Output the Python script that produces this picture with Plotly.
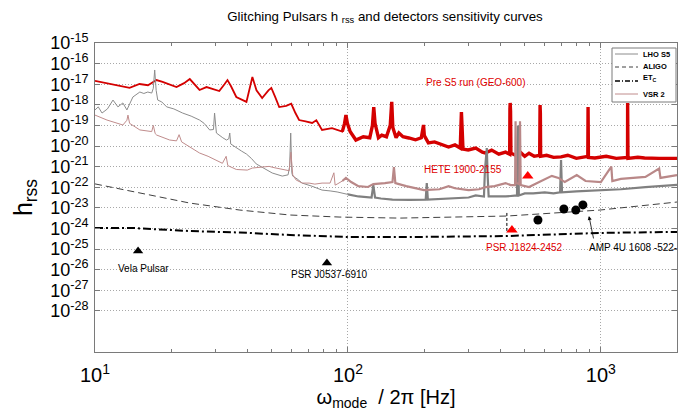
import numpy as np
import plotly.graph_objects as go

# ---------------- data (frequency in Hz, log10 of h_rss) ----------------
geo_f = [10, 11.5, 13.7, 15.0, 16.2, 17.5, 18.5, 21.0, 22.5, 23.7, 25.0, 25.9, 27.6, 31.0, 32.5, 33.4, 34.5,
         36.2, 39.7, 40.8, 41.9, 43.5, 45.8, 48.5, 49.8, 51.5, 53.5, 57, 59.7, 62, 64.1, 68, 72.2, 75, 79.0,
         86.5, 90.6, 95, 97, 98.2, 99.5, 102, 107.5, 115, 122, 125, 126.5, 128, 132, 136, 142, 147, 149,
         150.5, 155, 159, 165, 174, 185, 195, 198, 199, 200.5, 208, 220, 235, 250, 265, 278, 280, 281,
         282.5, 285, 299, 320, 340, 349, 370, 395, 420, 436, 437, 438, 439.5, 441, 459, 480, 500, 520,
         545, 573, 574, 575, 576.5, 578, 610, 650, 696, 740, 800, 888, 889, 890, 891.5, 893, 947, 1050,
         1150, 1275, 1276, 1277.5, 1280, 1400, 1489, 1700, 2000]
geo_e = [-16.84, -16.99, -17.18, -16.99, -17.05, -16.80, -16.89, -17.14, -16.95, -16.75, -17.05, -17.28,
         -17.14, -17.33, -17.0, -16.80, -17.1, -17.62, -17.86, -17.2, -16.65, -17.3, -17.67, -17.3, -17.18,
         -17.6, -18.11, -18.05, -17.95, -18.4, -18.74, -18.8, -18.88, -18.75, -19.22, -19.13, -19.22, -19.3,
         -18.9, -18.50, -18.9, -19.3, -19.71, -19.55, -19.6, -19.0, -18.11, -18.9, -19.6, -19.47, -19.55,
         -19.0, -17.86, -19.1, -19.6, -19.37, -19.55, -19.61, -19.7, -19.6, -19.2, -18.98, -19.5, -19.85,
         -19.8, -19.95, -20.05, -19.95, -20.1, -18.9, -18.35, -19.0, -20.15, -20.19, -20.1, -20.3, -20.34,
         -20.2, -20.4, -20.3, -20.4, -18.2, -17.91, -18.3, -20.35, -20.44, -20.3, -20.5, -20.35, -20.5,
         -20.45, -18.4, -18.01, -18.4, -20.5, -20.45, -20.55, -20.53, -20.45, -20.6, -20.5, -18.3, -18.11,
         -18.4, -20.55, -20.58, -20.5, -20.6, -20.55, -17.91, -18.4, -20.6, -20.55, -20.58, -20.6, -20.6]

lho_f = [10, 10.3, 10.66, 11.2, 11.78, 12.32, 12.89, 13.37, 14.12, 15.04, 15.6, 16.17, 16.76, 17.0, 17.22,
         17.45, 17.70, 18.36, 19.2, 20.5, 22.2, 24, 25.9, 27, 28.4, 29.4, 29.7, 30.0, 30.2, 32, 33.1, 33.8,
         34.1, 34.4, 36.2, 38, 39.7, 41.5, 43.4, 46, 50.2, 55, 58, 58.8, 59.4, 60, 60.5, 63, 65.9, 72, 79.0,
         85, 90.6, 100, 110, 124, 126, 128, 135, 150, 175, 203, 205, 207, 240, 280, 300, 320, 345, 348, 354,
         357, 360, 380, 420, 466, 470, 474, 500, 540, 600, 650, 690, 696, 702, 800, 1000, 1200, 1500, 2000]
lho_e = [-18.25, -18.1, -18.40, -18.2, -17.77, -18.10, -17.91, -18.25, -17.62, -17.38, -17.45, -17.38,
         -17.43, -17.2, -16.31, -17.3, -17.77, -17.86, -18.10, -18.2, -18.40, -18.55, -18.74, -18.9, -19.22,
         -19.2, -18.40, -19.25, -19.37, -19.6, -19.71, -19.65, -19.37, -19.9, -20.10, -20.25, -20.39, -20.6,
         -20.87, -21.05, -21.31, -21.46, -21.4, -21.0, -19.37, -21.3, -21.46, -21.6, -21.80, -21.95, -22.14,
         -22.18, -22.23, -22.35, -22.45, -22.5, -21.9, -22.5, -22.55, -22.6, -22.62, -22.6, -21.8, -22.6,
         -22.55, -22.52, -22.5, -22.4, -22.45, -21.2, -20.1, -21.5, -22.45, -22.45, -22.45, -22.4, -19.0,
         -22.4, -22.3, -22.3, -22.25, -22.3, -22.25, -20.68, -22.25, -22.2, -22.14, -22.1, -22.0, -21.89]

vsr_f = [10, 11.15, 12.89, 13.37, 13.5, 13.7, 15.04, 16.76, 17.0, 17.3, 17.54, 19.74, 21, 21.5, 22, 25.9,
         28, 31.9, 33, 33.5, 36.2, 40, 41.9, 46, 48.8, 51, 55.0, 58.6, 59.5, 60.5, 62.4, 66, 70.2, 74, 79.0,
         85, 88, 89, 90.6, 95, 98.2, 103, 110, 120, 126, 140, 150, 152, 154, 170, 200, 230, 250, 265, 300,
         330, 350, 380, 420, 440, 458, 460, 463, 476, 479, 482, 520, 560, 600, 640, 680, 720, 803, 870,
         1000, 1100, 1110, 1200, 1500, 1700, 1720, 2000]
vsr_e = [-18.50, -18.74, -18.98, -18.75, -18.5, -18.9, -19.22, -19.3, -19.0, -19.4, -19.47, -19.71, -19.75,
         -19.45, -19.8, -20.34, -20.5, -20.84, -20.5, -20.95, -21.14, -21.17, -21.07, -21.0, -20.99, -21.05,
         -21.14, -21.2, -20.3, -21.4, -21.65, -21.8, -21.80, -21.85, -21.80, -21.8, -21.3, -21.9, -21.85,
         -21.7, -21.55, -21.75, -21.95, -21.99, -21.85, -21.8, -21.75, -21.02, -21.8, -21.95, -22.14, -22.1,
         -21.95, -22.05, -22.14, -22.1, -22.0, -21.95, -21.8, -21.9, -21.9, -18.8, -21.8, -21.85, -18.8,
         -21.9, -21.99, -21.8, -21.6, -21.45, -21.55, -21.75, -21.41, -21.7, -21.75, -21.0, -21.7, -21.6,
         -21.5, -21.1, -21.55, -21.41]

aligo_f = [10, 23.7, 37.4, 59, 93, 160, 425, 990, 2000]
aligo_e = [-21.84, -22.77, -23.11, -23.35, -23.45, -23.5, -23.4, -23.11, -22.72]

et_f = [10, 14.1, 23.7, 37.4, 59, 102, 171, 425, 990, 2000]
et_e = [-23.98, -23.98, -24.13, -24.2, -24.32, -24.42, -24.42, -24.37, -24.22, -24.17]

black_tri_f = [14.8, 82.6]
black_tri_e = [-25.10, -25.68]
red_tri_f = [445, 514]
red_tri_e = [-24.08, -21.46]
amp_f = [564, 714, 796, 849]
amp_e = [-23.59, -23.06, -23.11, -22.86]
err_f = [425, 425]
err_e = [-23.25, -24.17]

labels = ["Pre S5 run (GEO-600)", "HETE 1900-2155", "PSR J1824-2452", "Vela Pulsar",
          "PSR J0537-6910", "AMP 4U 1608 -522-"]
label_f = [318, 285, 501, 15.6, 84.2, 1340]
label_e = [-16.94, -21.12, -24.95, -25.97, -26.26, -24.95]
label_col = ["#e00000", "#e00000", "#e00000", "black", "black", "black"]
arrow_head = (897, -23.40)
arrow_tail = (938, -24.56)

legend_names = ["LHO S5", "ALIGO", "ET<sub>C</sub>", "VSR 2"]

y_tick_exp = list(range(-15, -29, -1))
x_tick_vals = [10, 100, 1000]
x_tick_text = ["10<sup>1</sup>", "10<sup>2</sup>", "10<sup>3</sup>"]

FONT = "Liberation Sans, Arial, Helvetica, sans-serif"
SPLIT = 100.0

GEO_C = "#d40000"
LHO_C = "#8c8c8c"
ALIGO_C = "#404040"
ET_C = "black"
VSR_C = "#c08c8c"
ALIGO_DASH = "7px,4px"
ET_DASH = "8px,3px,2px,3px"


def hv(e):
    return [10.0 ** v for v in e]


def part(f, e, low):
    f = np.asarray(f, float)
    e = np.asarray(e, float)
    m = f <= SPLIT if low else f >= SPLIT * 0.95
    return f[m], 10.0 ** e[m]


fig = go.Figure()

gx, gy = part(geo_f, geo_e, True)
fig.add_trace(go.Scatter(x=gx, y=gy, mode="lines", line=dict(color=GEO_C, width=1.8),
                         name="GEO-600", hoverinfo="skip"))
gx, gy = part(geo_f, geo_e, False)
fig.add_trace(go.Scatter(x=gx, y=gy, mode="lines", line=dict(color=GEO_C, width=3.4),
                         name="GEO-600", hoverinfo="skip"))

lx, ly = part(lho_f, lho_e, True)
fig.add_trace(go.Scatter(x=lx, y=ly, mode="lines", name="LHO S5", line=dict(color=LHO_C, width=1)))
lx, ly = part(lho_f, lho_e, False)
fig.add_trace(go.Scatter(x=lx, y=ly, mode="lines", name="LHO S5", line=dict(color="#808080", width=2.2)))

fig.add_trace(go.Scatter(x=aligo_f, y=hv(aligo_e), mode="lines", name="ALIGO",
                         line=dict(color=ALIGO_C, width=1, dash=ALIGO_DASH)))
fig.add_trace(go.Scatter(x=et_f, y=hv(et_e), mode="lines", name="ET_C",
                         line=dict(color=ET_C, width=2, dash=ET_DASH)))

vx, vy = part(vsr_f, vsr_e, True)
fig.add_trace(go.Scatter(x=vx, y=vy, mode="lines", name="VSR 2", line=dict(color=VSR_C, width=1)))
vx, vy = part(vsr_f, vsr_e, False)
fig.add_trace(go.Scatter(x=vx, y=vy, mode="lines", name="VSR 2", line=dict(color="#b98888", width=2.2)))

fig.add_trace(go.Scatter(x=err_f, y=hv(err_e), mode="lines",
                         line=dict(color="black", width=1, dash="3px,2px")))
fig.add_trace(go.Scatter(x=black_tri_f, y=hv(black_tri_e), mode="markers",
                         marker=dict(symbol="triangle-up", size=9, color="black")))
fig.add_trace(go.Scatter(x=red_tri_f, y=hv(red_tri_e), mode="markers",
                         marker=dict(symbol="triangle-up", size=10, color="#ff0000")))
fig.add_trace(go.Scatter(x=amp_f, y=hv(amp_e), mode="markers",
                         marker=dict(symbol="circle", size=9, color="black")))

for t, f, e, c in zip(labels, label_f, label_e, label_col):
    fig.add_annotation(x=np.log10(f), y=e, text=t, showarrow=False,
                       font=dict(family=FONT, size=10, color=c), xanchor="center", yanchor="middle")

fig.add_annotation(x=np.log10(arrow_head[0]), y=arrow_head[1], ax=np.log10(arrow_tail[0]),
                   ay=arrow_tail[1], axref="x", ayref="y", text="", showarrow=True,
                   arrowhead=2, arrowsize=1, arrowwidth=0.8, arrowcolor="black")

# ---- compact legend box (MATLAB style), drawn in plot-area paper coordinates ----
PW, PH = 582.0, 309.0   # plot area size in px


def px_x(dx):
    return 1 - dx / PW


def px_y(dy):
    return 1 - dy / PH


fig.add_shape(type="rect", xref="paper", yref="paper", x0=px_x(65), x1=px_x(1), y0=px_y(59), y1=px_y(5),
              line=dict(color="#7a7a7a", width=1), fillcolor="white", layer="above")
leg_styles = [dict(color=LHO_C, width=1), dict(color=ALIGO_C, width=1, dash="4px,3px"),
              dict(color=ET_C, width=1.5, dash="5px,2px,1px,2px"), dict(color=VSR_C, width=1)]
leg_line_dy = [11, 24, 38, 51]
leg_text_dy = [11, 24, 35, 51]
for name, st, ldy, tdy in zip(legend_names, leg_styles, leg_line_dy, leg_text_dy):
    fig.add_shape(type="line", xref="paper", yref="paper", x0=px_x(62), x1=px_x(39),
                  y0=px_y(ldy), y1=px_y(ldy), line=st, layer="above")
    fig.add_annotation(xref="paper", yref="paper", x=px_x(36), y=px_y(tdy), text="<b>%s</b>" % name,
                       showarrow=False, xanchor="left", yanchor="middle",
                       font=dict(family=FONT, size=7.5, color="black"))

axis_common = dict(showline=True, linecolor="#7a7a7a", linewidth=1, mirror="ticks",
                   ticks="inside", ticklen=5, tickcolor="#7a7a7a", zeroline=False,
                   showgrid=True, gridcolor="#a8a8a8", griddash="1px,2px", gridwidth=1,
                   automargin=False)

fig.update_xaxes(type="log", range=[1, np.log10(2000)], tickvals=x_tick_vals, ticktext=x_tick_text,
                 tickfont=dict(family=FONT, size=20, color="black"), ticklabelstandoff=5,
                 minor=dict(ticks="inside", ticklen=3, tickcolor="#7a7a7a", showgrid=False,
                            tickvals=[20, 30, 40, 50, 60, 70, 80, 90, 200, 300, 400, 500, 600,
                                      700, 800, 900, 2000]),
                 title=dict(text="ω<sub>mode</sub>  / 2π [Hz]", font=dict(family=FONT, size=20,
                            color="black"), standoff=4),
                 **axis_common)
fig.update_yaxes(type="log", range=[-30, -15], tickvals=[10.0 ** v for v in y_tick_exp],
                 ticktext=["10<sup>%d</sup>" % v for v in y_tick_exp],
                 tickfont=dict(family=FONT, size=18, color="black"), ticklabelstandoff=2,
                 title=dict(text="h<sub>rss</sub>", font=dict(family=FONT, size=25, color="black"),
                            standoff=10),
                 **axis_common)

fig.update_layout(
    width=678, height=417,
    margin=dict(l=95, r=1, t=43, b=65),
    paper_bgcolor="white", plot_bgcolor="white",
    font=dict(family=FONT, color="black"),
    showlegend=False,
    title=dict(text="Glitching Pulsars h <sub>rss</sub> and detectors sensitivity curves",
               x=385 / 678, xanchor="center", y=1 - 16 / 417, yanchor="middle",
               font=dict(family=FONT, size=13.3, color="black")),
)

fig.write_html("out.html")
